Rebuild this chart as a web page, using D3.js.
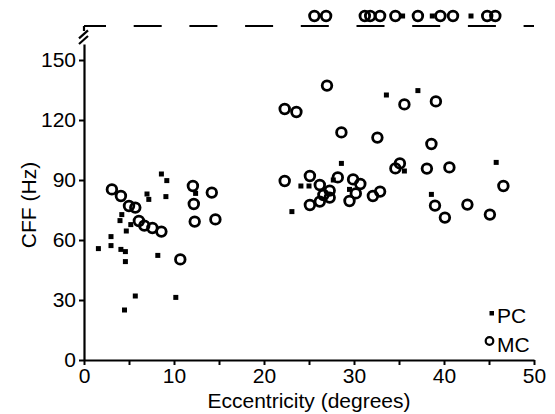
<!DOCTYPE html>
<html>
<head>
<meta charset="utf-8">
<script src="https://cdn.jsdelivr.net/npm/d3@7"></script>
<style>
  body { margin: 0; background: #fff; }
  text { font-family: "Liberation Sans", Arial, sans-serif; fill: #000; }
</style>
</head>
<body>
<div id="chart"></div>
<script>
// PC cells (filled squares): [eccentricity, CFF]
var pcPoints = [
  [1.6, 55.7], [3.0, 57.2], [3.0, 61.7], [4.1, 55.3], [4.6, 54.2], [4.6, 49.2],
  [4.5, 25], [5.7, 32], [4.0, 69.7], [4.2, 72.7], [4.7, 64.5], [5.2, 67.7],
  [7.0, 83], [7.2, 80.3], [8.6, 93], [9.2, 89.7], [9.1, 81.7], [8.2, 52.3],
  [10.2, 31.3], [12.4, 83.3],
  [23.1, 74.2], [24.1, 87], [25.0, 87], [27.7, 90], [28.6, 98.3], [29.5, 85.3],
  [33.6, 132.5], [37.1, 134.7], [35.6, 94.5], [38.6, 82.8], [45.8, 98.8]
];

// MC cells (open circles): [eccentricity, CFF]
var mcPoints = [
  [3.1, 85.3], [4.1, 82], [5.0, 77], [5.7, 76.2], [6.1, 69.5], [6.7, 67.2],
  [7.6, 66], [8.6, 64.2], [10.7, 50.3], [12.1, 87], [12.2, 78], [12.3, 69.2],
  [14.2, 83.7], [14.6, 70.3],
  [22.3, 89.5], [22.3, 125.5], [23.6, 124], [27.0, 137.2], [28.6, 113.8], [32.6, 111.2],
  [25.1, 92], [26.2, 87.5], [28.2, 91.3], [29.9, 90.3], [30.7, 88], [26.6, 82.5],
  [27.3, 81.2], [27.3, 84.7], [26.2, 79.2], [25.1, 77.5], [30.2, 83.3], [29.5, 79.5],
  [32.1, 82], [32.9, 84.2], [34.6, 95.8], [35.1, 98.3], [35.6, 127.8], [39.1, 129.3],
  [38.6, 108], [38.1, 95.7], [40.6, 96.3], [46.6, 87], [39.0, 77.2], [40.1, 71.2],
  [42.6, 77.7], [45.1, 72.7]
];

// cells above the break (no measurable cutoff), eccentricity only
var pcAbove = [35.4, 38.7, 43.0];
var mcAbove = [25.6, 26.9, 31.2, 31.8, 32.9, 34.6, 37.1, 39.6, 41.0, 44.8, 45.7];
var aboveValue = 172;   // row drawn above the break
var breakLineValue = 167;

var xTicks = [0, 10, 20, 30, 40, 50];
var xMinorTicks = [5, 15, 25, 35, 45];
var yTicks = [0, 30, 60, 90, 120, 150];

var width = 555, height = 414;

var svg = d3.select("#chart")
  .append("svg")
  .attr("width", width)
  .attr("height", height);

var x = d3.scaleLinear().domain([0, 50]).range([84, 534]);
var y = d3.scaleLinear().domain([0, 158]).range([360, 44]);

// x axis with minor ticks
svg.append("g")
  .attr("transform", "translate(0," + y(0) + ")")
  .call(d3.axisBottom(x).tickValues(xMinorTicks).tickSize(5).tickFormat(""))
  .call(function(g){ g.select(".domain").remove(); })
  .selectAll("line").attr("stroke-width", 2);

var xAxis = svg.append("g")
  .attr("transform", "translate(0," + y(0) + ")")
  .call(d3.axisBottom(x).tickValues(xTicks).tickSize(5).tickSizeOuter(0).tickPadding(3));

var yAxis = svg.append("g")
  .attr("transform", "translate(" + x(0) + ",0)")
  .call(d3.axisLeft(y).tickValues(yTicks).tickSize(5).tickSizeOuter(0).tickPadding(3));

[xAxis, yAxis].forEach(function(g){
  g.select(".domain").attr("stroke-width", 2.2);
  g.selectAll(".tick line").attr("stroke-width", 2);
  g.selectAll(".tick text")
    .style("font-size", "21px")
    .style("font-family", "'Liberation Sans', Arial, sans-serif");
});

// axis break: short stub above the break, then two slashes
svg.append("line")
  .attr("x1", x(0)).attr("x2", x(0))
  .attr("y1", y(breakLineValue)).attr("y2", y(164.5))
  .attr("stroke", "#000").attr("stroke-width", 2.2);

[160, 162.8].forEach(function(v){
  svg.append("line")
    .attr("x1", x(0) - 5).attr("y1", y(v) + 4)
    .attr("x2", x(0) + 4).attr("y2", y(v) - 4)
    .attr("stroke", "#000").attr("stroke-width", 2.2);
});

// dashed line marking the break row
svg.append("line")
  .attr("x1", x(0)).attr("x2", x(50))
  .attr("y1", y(breakLineValue)).attr("y2", y(breakLineValue))
  .attr("stroke", "#000").attr("stroke-width", 2)
  .attr("stroke-dasharray", "28,27.7")
  .attr("stroke-dashoffset", 6);

var sq = 5;

svg.selectAll("rect.pc")
  .data(pcPoints)
  .enter()
  .append("rect")
  .attr("class", "pc")
  .attr("x", function(d){ return x(d[0]) - sq / 2; })
  .attr("y", function(d){ return y(d[1]) - sq / 2; })
  .attr("width", sq).attr("height", sq)
  .attr("fill", "#000");

svg.selectAll("circle.mc")
  .data(mcPoints)
  .enter()
  .append("circle")
  .attr("class", "mc")
  .attr("cx", function(d){ return x(d[0]); })
  .attr("cy", function(d){ return y(d[1]); })
  .attr("r", 4.8)
  .attr("fill", "none")
  .attr("stroke", "#000")
  .attr("stroke-width", 2.8);

svg.selectAll("rect.pcAbove")
  .data(pcAbove)
  .enter()
  .append("rect")
  .attr("class", "pcAbove")
  .attr("x", function(d){ return x(d) - sq / 2; })
  .attr("y", y(aboveValue) - sq / 2)
  .attr("width", sq).attr("height", sq)
  .attr("fill", "#000");

svg.selectAll("circle.mcAbove")
  .data(mcAbove)
  .enter()
  .append("circle")
  .attr("class", "mcAbove")
  .attr("cx", function(d){ return x(d); })
  .attr("cy", y(aboveValue))
  .attr("r", 4.8)
  .attr("fill", "none")
  .attr("stroke", "#000")
  .attr("stroke-width", 2.8);

// axis titles
svg.append("text")
  .attr("x", (x(0) + x(50)) / 2)
  .attr("y", 408)
  .attr("text-anchor", "middle")
  .style("font-size", "21px")
  .text("Eccentricity (degrees)");

svg.append("text")
  .attr("transform", "translate(36," + 205 + ") rotate(-90)")
  .attr("text-anchor", "middle")
  .style("font-size", "21px")
  .text("CFF (Hz)");

// legend
var legend = svg.append("g");
legend.append("rect")
  .attr("x", 489.5).attr("y", 311)
  .attr("width", 4.5).attr("height", 4.5)
  .attr("fill", "#000");
legend.append("text")
  .attr("x", 497).attr("y", 323)
  .style("font-size", "21px")
  .text("PC");
legend.append("circle")
  .attr("cx", 489.5).attr("cy", 341)
  .attr("r", 3.8)
  .attr("fill", "none")
  .attr("stroke", "#000")
  .attr("stroke-width", 2.2);
legend.append("text")
  .attr("x", 497).attr("y", 352)
  .style("font-size", "21px")
  .text("MC");
</script>
</body>
</html>
